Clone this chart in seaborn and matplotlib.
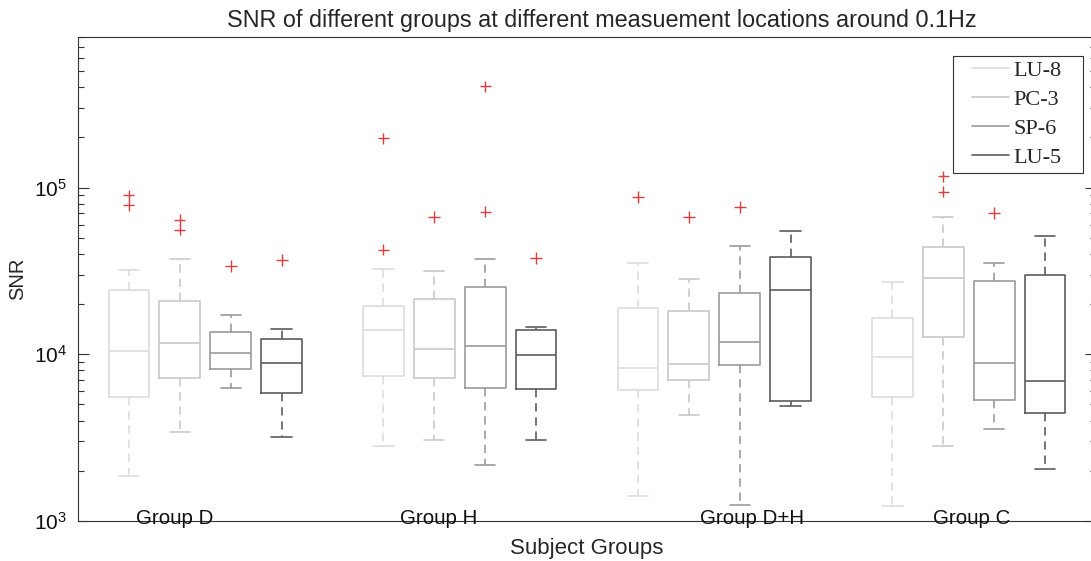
import numpy as np
import pandas as pd
import matplotlib
matplotlib.use("Agg")
import matplotlib.pyplot as plt
from matplotlib.lines import Line2D
from matplotlib.patches import Rectangle
from matplotlib.transforms import IdentityTransform
from matplotlib.ticker import LogLocator, NullFormatter
import seaborn as sns

# ---------------- data ----------------
groups = ["Group D", "Group H", "Group D+H", "Group C"]
locations = ["LU-8", "PC-3", "SP-6", "LU-5"]

# five-number summaries per group: [lower whisker, Q1, median, Q3, upper whisker]
lu8_stats = [[1860, 5580, 10450, 24400, 32200],
             [2810, 7430, 13900, 19400, 32600],
             [1410, 6120, 8330, 18840, 35300],
             [1230, 5560, 9660, 16500, 27200]]
pc3_stats = [[3410, 7190, 11720, 21000, 37500],
             [3040, 7190, 10830, 21500, 31600],
             [4330, 7030, 8770, 18100, 28100],
             [2830, 12620, 28700, 43800, 66700]]
sp6_stats = [[6290, 8180, 10110, 13600, 17200],
             [2180, 6270, 11140, 25500, 37300],
             [1250, 8650, 11780, 23200, 44400],
             [3580, 5330, 8890, 27500, 35100]]
lu5_stats = [[3180, 5870, 8850, 12400, 14170],
             [3040, 6150, 9840, 13970, 14490],
             [4880, 5280, 24400, 38300, 55200],
             [2040, 4450, 6960, 29800, 51500]]

# outliers per group
lu8_outliers = [[89900, 78300], [198000, 42400], [87900], []]
pc3_outliers = [[64000, 55900], [66700], [66300], [116900, 94200]]
sp6_outliers = [[34000], [406000, 71800], [76200], [70800]]
lu5_outliers = [[36800], [37600], [], []]

line_colors = ["#dddddd", "#c9c9c9", "#9b9b9b", "#5c5c5c"]
outlier_color = "#e03c3e"
group_label_pos = [-0.12, 0.916, 2.148, 3.012]

# ---------------- tidy frames ----------------
box_rows, out_rows = [], []
for loc, stats, outs in zip(locations,
                            [lu8_stats, pc3_stats, sp6_stats, lu5_stats],
                            [lu8_outliers, pc3_outliers, sp6_outliers, lu5_outliers]):
    for g, s, o in zip(groups, stats, outs):
        for v in s:
            box_rows.append({"group": g, "location": loc, "snr": v})
        for v in o:
            out_rows.append({"group": g, "location": loc, "snr": v})
df_box = pd.DataFrame(box_rows)
df_out = pd.DataFrame(out_rows)

# ---------------- figure ----------------
sns.set_style("white")
plt.rcParams["font.family"] = ["Liberation Sans", "DejaVu Sans"]

fig = plt.figure(figsize=(10.91, 5.61), dpi=100)
ax = fig.add_axes([78 / 1091, 1 - 521 / 561, 1018 / 1091, 484 / 561])

sns.boxplot(data=df_box, x="group", y="snr", hue="location",
            order=groups, hue_order=locations, palette=line_colors,
            fill=False, whis=(0, 100), showfliers=False,
            width=0.8, gap=0.2, linewidth=1.2,
            whiskerprops={"linestyle": (0, (5, 3.5))},
            log_scale=True, legend=False, ax=ax)

sns.stripplot(data=df_out, x="group", y="snr", hue="location",
              order=groups, hue_order=locations,
              palette=[outlier_color] * len(locations),
              dodge=True, jitter=False, marker="+", size=8, linewidth=1.0,
              legend=False, ax=ax)

ax.set_yscale("log")
ax.set_ylim(1e3, 8e5)
ax.set_xlim(-0.5, 3.5)
ax.set_xticks([])
ax.set_xlabel("Subject Groups", fontsize=16, labelpad=12)
ax.set_ylabel("SNR", fontsize=14.5, labelpad=5)
ax.set_title("SNR of different groups at different measuement locations around 0.1Hz",
             fontsize=16.8, x=0.515, pad=7)

ax.yaxis.set_major_locator(LogLocator(base=10, numticks=10))
ax.yaxis.set_minor_locator(LogLocator(base=10, subs=np.arange(2, 10), numticks=20))
ax.yaxis.set_minor_formatter(NullFormatter())
ax.tick_params(axis="y", which="both", direction="in", right=True, left=True,
               colors="#333333", labelcolor="#111111", labelsize=15, pad=8)
ax.tick_params(axis="y", which="major", length=8, width=0.8)
ax.tick_params(axis="y", which="minor", length=4, width=0.8)
for sp in ax.spines.values():
    sp.set_color("#333333")
    sp.set_linewidth(0.8)

trans = ax.get_xaxis_transform()
for g, xp in zip(groups, group_label_pos):
    ax.text(xp, 0.006, g, transform=trans, ha="center", va="center",
            fontsize=14.8, color="#111111")

# legend: line handles in the box colours, serif font, MATLAB-like wide frame
pad_left, pad_right = 14, 17
handles = [Line2D([], [], color=c, lw=1.2) for c in line_colors]
leg = ax.legend(handles, locations, loc="upper right",
                bbox_to_anchor=((1083 - pad_right - 78) / 1018, 1 - (56 - 37) / 484),
                borderaxespad=0, frameon=True, fancybox=False,
                prop={"family": "Liberation Serif", "size": 16},
                handlelength=1.67, handletextpad=0.18, labelspacing=0.38,
                borderpad=0.21)
leg.get_frame().set_visible(False)
leg.set_zorder(6)
fig.canvas.draw()
bb = leg.get_window_extent()
frame = Rectangle((bb.x0 - pad_left, bb.y0), bb.width + pad_left + pad_right, bb.height,
                  transform=IdentityTransform(), fill=True, facecolor="white",
                  edgecolor="#333333", linewidth=0.8, zorder=5)
frame.set_clip_on(False)
ax.add_artist(frame)

fig.savefig("out.png", dpi=100)
